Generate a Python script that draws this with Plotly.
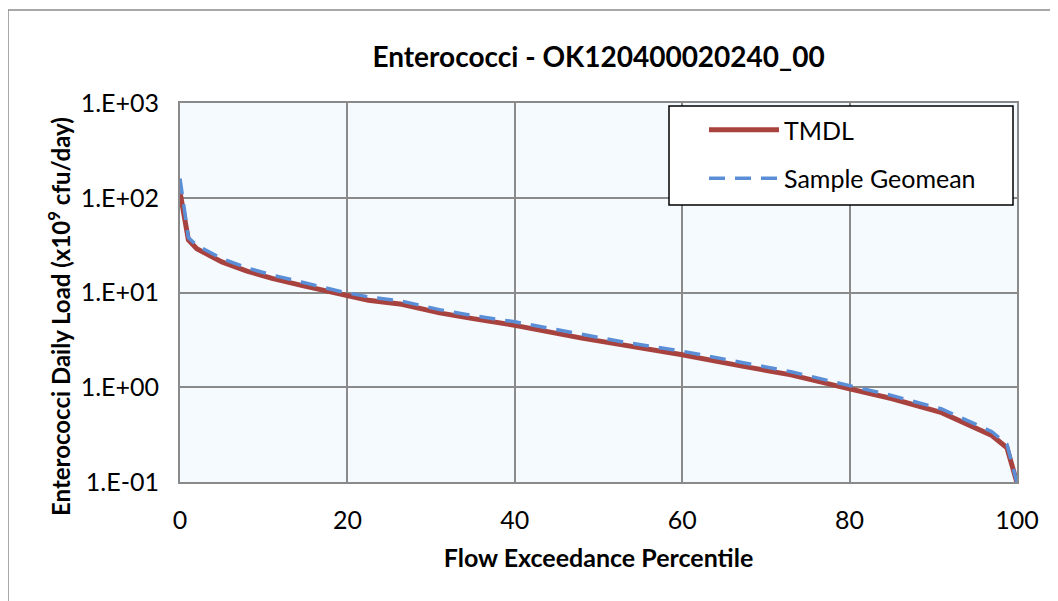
import plotly.graph_objects as go

# Flow exceedance percentile (x) and loads (x10^9 cfu/day)
pct = [0, 1, 2, 5, 8, 11, 14.5, 17, 19.3, 22.5, 26.5, 31, 35, 40, 48, 53, 60, 67, 73, 80, 85, 91, 97, 98.8, 100]
tmdl = [115, 36, 29, 21, 16.8, 14.1, 11.9, 10.6, 9.4, 8.3, 7.5, 6.1, 5.3, 4.5, 3.3, 2.8, 2.2, 1.68, 1.35, 0.96, 0.76, 0.54, 0.31, 0.23, 0.098]
geomean = [160, 38, 31.5, 22.8, 18.2, 15.3, 12.9, 11.5, 10.2, 9.0, 8.1, 6.6, 5.7, 4.9, 3.6, 3.0, 2.4, 1.82, 1.46, 1.04, 0.82, 0.59, 0.34, 0.25, 0.098]

x_ticks = [0, 20, 40, 60, 80, 100]
y_ticks = [0.1, 1, 10, 100, 1000]
y_ticktext = ["1.E-01", "1.E+00", "1.E+01", "1.E+02", "1.E+03"]

FONT = "Lato"
OFF = 8  # page body margin
W, H = 1058 - OFF, 601 - OFF
# plot area in screen pixels: x 180..1017, y 103..482
L, R, T, B = 180 - OFF, 1058 - 1017, 103 - OFF, 601 - 482
pw, ph = W - L - R, H - T - B


def px_x(p):
    return (p - OFF - L) / pw


def px_y(p):
    return (H - B - (p - OFF)) / ph


fig = go.Figure()
fig.add_trace(go.Scatter(x=pct, y=tmdl, mode="lines", name="TMDL", legendgroup="a",
                         line=dict(color="#A8423F", width=5)))
fig.add_trace(go.Scatter(x=pct, y=geomean, mode="lines", name="Sample Geomean", legendgroup="b",
                         line=dict(color="#5A8FD8", width=3.5, dash="16px,10px")))

fig.update_layout(
    width=W, height=H,
    margin=dict(l=L, r=R, t=T, b=B),
    paper_bgcolor="white",
    plot_bgcolor="#F5FAFE",
    font=dict(family=FONT, color="black", size=25),
    title=dict(text="<b>Enterococci - OK120400020240_00</b>", x=0.5, xref="paper",
               y=1 - (57 - OFF) / H, yanchor="middle", font=dict(size=28, family=FONT)),
    legend=dict(x=px_x(704), y=px_y(107), xanchor="left", yanchor="top",
                bgcolor="rgba(0,0,0,0)", borderwidth=0,
                font=dict(size=25, family=FONT), itemwidth=70, tracegroupgap=13),
    showlegend=True,
    shapes=[
        dict(type="rect", xref="paper", yref="paper",
             x0=px_x(8), x1=px_x(1080), y0=px_y(10), y1=px_y(640),
             line=dict(color="#8C8C8C", width=1.5), layer="below"),
        dict(type="rect", xref="paper", yref="paper",
             x0=px_x(669), x1=px_x(1013), y0=px_y(106), y1=px_y(205),
             line=dict(color="black", width=1.5), fillcolor="white", layer="above"),
    ],
    annotations=[
        dict(text="<b>Enterococci Daily Load (x10<sup>9</sup> cfu/day)</b>", textangle=-90,
             xref="paper", yref="paper", x=px_x(59), y=px_y(317),
             xanchor="center", yanchor="middle", showarrow=False,
             font=dict(size=24, family=FONT)),
    ],
)

fig.update_xaxes(range=[0, 100], tickvals=x_ticks, showgrid=True, gridcolor="#8A8A8A", gridwidth=1.5,
                 showline=True, linecolor="#8A8A8A", linewidth=2, mirror=True, zeroline=False,
                 ticks="", ticklabelstandoff=15, tickfont=dict(size=25), automargin=False,
                 title=dict(text="<b>Flow Exceedance Percentile</b>", font=dict(size=25), standoff=16))
fig.update_yaxes(type="log", range=[-1, 3], tickvals=y_ticks, ticktext=y_ticktext,
                 showgrid=True, gridcolor="#8A8A8A", gridwidth=1.5,
                 showline=True, linecolor="#8A8A8A", linewidth=2, mirror=True, zeroline=False,
                 ticks="", ticklabelstandoff=14, tickfont=dict(size=25), automargin=False)

fig.write_html("out.html")
